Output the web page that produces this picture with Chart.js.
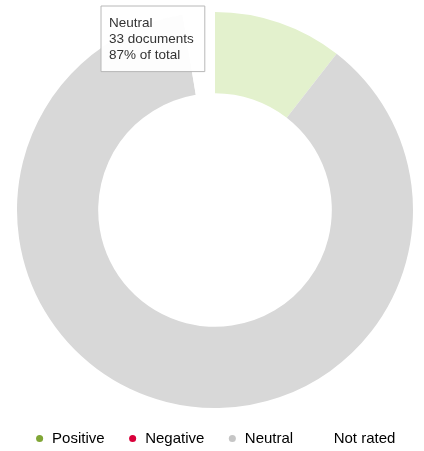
<!DOCTYPE html>
<html lang="en">
<head>
  <meta charset="UTF-8" />
  <title>Document sentiment</title>
  <script src="https://cdn.jsdelivr.net/npm/chart.js"></script>
  <style>
    body { margin: 0; padding: 0; background: #fff; }
    .wrap { width: 424px; height: 451px; }
  </style>
</head>
<body>
  <div class="wrap"><canvas id="sentimentChart"></canvas></div>
  <script>
    // Sentiment categories and document counts
    const labels = ['Positive', 'Negative', 'Neutral', 'Not rated'];
    const counts = [4, 0, 33, 1];
    // slice fill and legend dot colours
    const sliceColors = ['#e3f1cd', '#f3b4c0', '#d8d8d8', '#ffffff'];
    const dotColors = ['#80a636', '#d9003a', '#c6c6c6', '#ffffff'];

    const total = counts.reduce((a, b) => a + b, 0);
    const FONT = 'Arial, "Liberation Sans", sans-serif';

    // keep the tooltip in the upper left of the ring
    Chart.Tooltip.positioners.topLeft = function () {
      const ca = this.chart.chartArea;
      return { x: ca.left + 95, y: ca.top - 6 };
    };

    const ctx = document.getElementById('sentimentChart').getContext('2d');
    const chart = new Chart(ctx, {
      type: 'doughnut',
      data: {
        labels,
        datasets: [{
          data: counts,
          backgroundColor: sliceColors,
          hoverBackgroundColor: sliceColors,
          borderWidth: 0,
          hoverOffset: 0
        }]
      },
      options: {
        responsive: true,
        maintainAspectRatio: false,
        animation: false,
        cutout: '59%',
        events: [],
        layout: { padding: { top: 12, bottom: -5, left: 6, right: 0 } },
        plugins: {
          legend: {
            position: 'bottom',
            labels: {
              usePointStyle: true,
              pointStyle: 'circle',
              boxWidth: 10,
              boxHeight: 5,
              padding: 23,
              color: '#555',
              font: { family: FONT, size: 15 },
              generateLabels: (c) => labels.map((l, i) => ({
                text: l,
                fillStyle: dotColors[i],
                strokeStyle: dotColors[i],
                lineWidth: 0,
                pointStyle: 'circle',
                hidden: false,
                index: i
              }))
            }
          },
          tooltip: {
            position: 'topLeft',
            xAlign: 'left',
            yAlign: 'top',
            caretSize: 0,
            caretPadding: 0,
            cornerRadius: 0,
            backgroundColor: 'rgba(255,255,255,0.95)',
            borderColor: '#b8b8b8',
            borderWidth: 1,
            titleColor: '#333',
            bodyColor: '#333',
            titleFont: { family: FONT, size: 13.5, weight: 'normal' },
            bodyFont: { family: FONT, size: 13.5 },
            titleMarginBottom: 0,
            bodySpacing: 0,
            padding: { top: 9, bottom: 8, left: 8, right: 11 },
            displayColors: false,
            callbacks: {
              title: (items) => items[0].label,
              label: (item) => [
                item.raw + ' documents',
                Math.round(item.raw / total * 100) + '% of total'
              ]
            }
          }
        }
      }
    });

    // show the Neutral tooltip as in the snapshot
    chart.tooltip.setActiveElements([{ datasetIndex: 0, index: 2 }], { x: 0, y: 0 });
    chart.update();
  </script>
</body>
</html>
